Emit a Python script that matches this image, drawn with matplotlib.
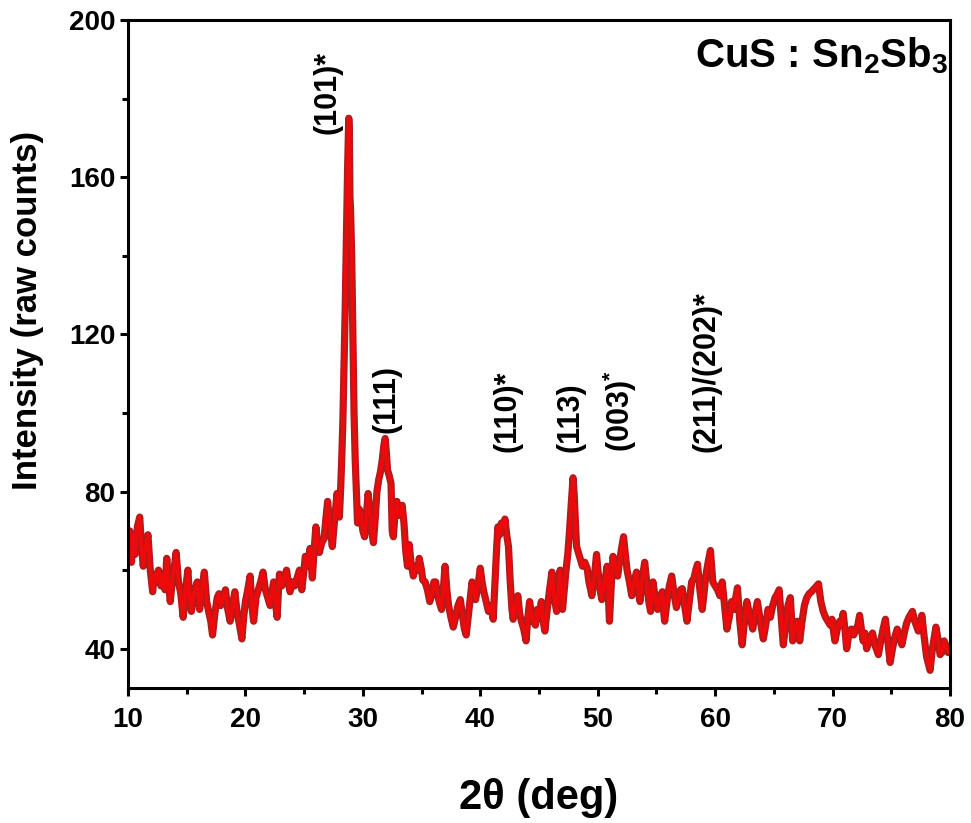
import matplotlib
matplotlib.use("Agg")
import matplotlib.pyplot as plt
from matplotlib.ticker import MultipleLocator

# XRD pattern of CuS : Sn2Sb3 film
two_theta = [
    10.0, 10.15, 10.3, 10.45, 10.6, 10.8, 11.0, 11.15, 11.3, 11.5, 11.7, 11.9,
    12.1, 12.25, 12.4, 12.6, 12.8, 13.0, 13.15, 13.3, 13.45, 13.6, 13.8, 14.0,
    14.1, 14.3, 14.5, 14.7, 14.9, 15.1, 15.25, 15.4, 15.6, 15.9, 16.1, 16.3,
    16.5, 16.7, 16.9, 17.05, 17.2, 17.4, 17.6, 17.75, 17.9, 18.1, 18.3, 18.5,
    18.7, 18.9, 19.1, 19.3, 19.5, 19.7, 19.85, 20.0, 20.2, 20.4, 20.55, 20.7,
    20.9, 21.1, 21.3, 21.5, 21.7, 21.9, 22.1, 22.25, 22.4, 22.55, 22.7, 22.8,
    22.9, 23.1, 23.3, 23.5, 23.65, 23.8, 24.0, 24.2, 24.4, 24.6, 24.8, 24.95,
    25.1, 25.3, 25.5, 25.7, 25.85, 26.0, 26.15, 26.3, 26.5, 26.7, 26.85, 27.0,
    27.2, 27.4, 27.6, 27.8, 27.9, 28.0, 28.1, 28.2, 28.3, 28.4, 28.5, 28.6,
    28.7, 28.8, 28.85, 28.9, 28.95, 29.05, 29.15, 29.25, 29.35, 29.45, 29.55, 29.7,
    29.85, 30.0, 30.15, 30.3, 30.45, 30.6, 30.75, 30.9, 31.05, 31.2, 31.35, 31.5,
    31.65, 31.8, 31.9, 32.0, 32.1, 32.25, 32.4, 32.5, 32.6, 32.75, 32.9, 33.05,
    33.2, 33.35, 33.5, 33.65, 33.8, 33.95, 34.1, 34.3, 34.5, 34.7, 34.8, 35.0,
    35.1, 35.3, 35.5, 35.7, 35.9, 36.05, 36.2, 36.35, 36.5, 36.7, 36.85, 37.0,
    37.15, 37.3, 37.5, 37.7, 37.9, 38.1, 38.3, 38.5, 38.65, 38.8, 39.0, 39.15,
    39.3, 39.45, 39.6, 39.8, 40.0, 40.15, 40.3, 40.5, 40.7, 40.9, 41.1, 41.25,
    41.4, 41.5, 41.65, 41.8, 42.0, 42.1, 42.25, 42.4, 42.55, 42.7, 42.8, 43.0,
    43.2, 43.35, 43.5, 43.7, 43.9, 44.05, 44.2, 44.35, 44.5, 44.7, 44.85, 45.0,
    45.2, 45.35, 45.5, 45.7, 45.9, 46.1, 46.3, 46.5, 46.65, 46.8, 46.9, 47.0,
    47.15, 47.3, 47.45, 47.6, 47.75, 47.9, 48.0, 48.1, 48.2, 48.35, 48.5, 48.7,
    48.9, 49.1, 49.25, 49.4, 49.5, 49.7, 49.9, 50.05, 50.2, 50.35, 50.5, 50.65,
    50.8, 50.9, 51.0, 51.15, 51.3, 51.5, 51.7, 51.85, 52.0, 52.2, 52.35, 52.5,
    52.7, 52.9, 53.1, 53.3, 53.45, 53.6, 53.8, 54.0, 54.2, 54.35, 54.5, 54.7,
    54.9, 55.1, 55.3, 55.5, 55.6, 55.7, 55.9, 56.1, 56.3, 56.5, 56.7, 56.9,
    57.05, 57.2, 57.4, 57.6, 57.8, 58.0, 58.2, 58.35, 58.5, 58.7, 58.9, 59.05,
    59.2, 59.4, 59.6, 59.8, 60.0, 60.2, 60.4, 60.6, 60.8, 61.0, 61.2, 61.4,
    61.6, 61.75, 61.9, 62.1, 62.3, 62.5, 62.7, 62.9, 63.05, 63.2, 63.4, 63.6,
    63.85, 64.1, 64.3, 64.5, 64.7, 64.9, 65.1, 65.3, 65.45, 65.6, 65.8, 66.0,
    66.2, 66.4, 66.5, 66.6, 66.8, 67.0, 67.2, 67.4, 67.6, 67.8, 68.0, 68.2,
    68.5, 68.8, 69.0, 69.2, 69.4, 69.6, 69.8, 69.95, 70.1, 70.2, 70.4, 70.6,
    70.75, 70.9, 71.05, 71.2, 71.4, 71.6, 71.8, 72.0, 72.15, 72.3, 72.45, 72.6,
    72.75, 72.9, 73.1, 73.25, 73.4, 73.6, 73.9, 74.1, 74.3, 74.5, 74.7, 74.9,
    75.1, 75.3, 75.5, 75.7, 75.9, 76.1, 76.3, 76.5, 76.8, 77.0, 77.3, 77.45,
    77.6, 77.8, 78.0, 78.3, 78.5, 78.8, 79.0, 79.15, 79.3, 79.5, 79.7, 79.85,
    80.0,
]
counts = [
    66, 70, 62, 69, 64, 71, 73.5, 66, 61, 66, 69, 60,
    54.5, 59, 57, 60, 56, 59, 55, 63, 57, 52, 58, 62,
    64.5, 57, 54, 48, 55, 60, 53, 49.5, 54, 57, 50, 55,
    59.5, 52, 49, 47, 43.5, 49, 53, 54, 51, 53, 55, 50,
    47, 51, 54.5, 49, 46, 42.5, 48, 52, 55, 58.5, 51, 47,
    53, 55, 57, 59.5, 55, 53, 51, 54, 57, 52, 48, 54,
    59, 56, 58, 60, 57, 54.5, 57, 56, 58, 60, 55, 59,
    63.5, 61, 65.5, 58, 65, 71, 67, 64.5, 67, 68, 73, 77.5,
    71, 66, 73, 79.5, 76, 73.5, 80, 88, 98, 112, 127, 145,
    162, 175, 172, 155, 152, 140, 120, 100, 88, 80, 72, 75.5,
    74, 70, 68.5, 74, 79.5, 75, 70, 67, 73, 80, 83, 85,
    88, 92, 93.5, 90, 85.5, 84, 82, 70, 68.5, 75, 77.5, 74,
    74, 76.5, 72, 65, 61, 66.5, 62, 58.5, 61, 60, 63, 60,
    57.5, 57, 55, 52, 54, 57, 57, 54, 52, 50, 55, 61,
    55, 51, 48, 45.5, 48, 51, 52.5, 48, 45, 43.5, 49, 53,
    57, 55, 52.5, 56, 60.5, 57, 54.5, 52, 49.5, 51, 47.5, 57,
    66, 71, 69, 72, 71, 73, 69, 66, 57, 50, 47.5, 51,
    53.5, 49, 47, 45, 42, 48, 52, 49, 47, 46, 50, 48,
    52, 47, 44.5, 50, 55, 59.5, 53, 49.5, 55, 60, 56, 50,
    55, 60, 64, 70, 77, 83.5, 79, 72, 66, 64.5, 63, 61,
    62, 60.5, 57, 55, 53.5, 58, 64, 59, 55, 52.5, 56, 58,
    61, 54, 47, 56, 63.5, 61, 58.5, 62, 65, 68.5, 64, 60,
    57, 53.5, 57, 59.5, 55, 52, 58, 62, 56, 52, 49.5, 57,
    53, 50, 53, 54.5, 50, 47, 52, 56, 58.5, 54, 50.5, 53,
    55, 55.3, 51, 47, 52, 57, 58, 60, 61.5, 55, 50, 54,
    58.5, 62, 65, 57, 56, 55, 53.5, 57, 51, 45, 48, 52,
    50, 53, 55.5, 47, 41, 47, 52, 49, 47, 45, 49, 52,
    47, 42.5, 46, 50, 48, 51, 53, 54, 55, 49, 41, 46,
    51, 53, 48, 42, 45, 47, 42, 47, 51, 53, 54, 54.5,
    55.5, 56.5, 52, 49.5, 48, 47, 46, 47.5, 44, 42, 45, 47,
    46, 49, 45, 40, 44, 45, 43.5, 45, 46, 48.5, 45, 42,
    44, 40, 42, 43, 44, 41, 38.5, 42, 45, 47.5, 42, 36.5,
    40, 43, 45, 43, 41, 44, 46.5, 48, 49.5, 47, 44.5, 46,
    48.5, 43, 38, 34.5, 40, 45.5, 42, 38.5, 39, 42, 40.5, 39,
    40,
]

# reflection labels: (text, 2theta position, bottom of label)
peak_labels = ["(101)*", "(111)", "(110)*", "(113)", "(003)$^{*}$", "(211)/(202)*"]
peak_pos = [26.95, 32.05, 42.35, 47.65, 51.9, 59.3]
label_base = [171, 95, 90, 90, 90, 90]

plt.rcParams["font.family"] = "Liberation Sans"
plt.rcParams["font.weight"] = "bold"
plt.rcParams["mathtext.fontset"] = "custom"
plt.rcParams["mathtext.rm"] = "Liberation Sans:bold"
plt.rcParams["mathtext.it"] = "Liberation Sans:bold"
plt.rcParams["mathtext.bf"] = "Liberation Sans:bold"

fig = plt.figure(figsize=(9.71, 8.23), dpi=100)
ax = fig.add_axes([0.1318, 0.164, 0.8466, 0.8117])

ax.plot(two_theta, counts, color="#b01c1c", lw=5.2, solid_joinstyle="round")
ax.plot(two_theta, counts, color="#ee0a0a", lw=2.6, solid_joinstyle="round")

for lab, x, y in zip(peak_labels, peak_pos, label_base):
    ax.text(x, y, lab, rotation=90, ha="center", va="bottom",
            fontsize=22, fontweight="bold")

ax.text(0.998, 0.977, "CuS : Sn$_2$Sb$_3$", transform=ax.transAxes,
        ha="right", va="top", fontsize=29, fontweight="bold")

ax.set_xlim(10, 80)
ax.set_ylim(30, 200)
ax.xaxis.set_major_locator(MultipleLocator(10))
ax.xaxis.set_minor_locator(MultipleLocator(5))
ax.yaxis.set_minor_locator(MultipleLocator(20))
ax.set_yticks([40, 80, 120, 160, 200])

for s in ax.spines.values():
    s.set_linewidth(2.2)
ax.tick_params(which="major", direction="out", length=6, width=2.2,
               labelsize=20, pad=3)
ax.tick_params(which="minor", direction="out", length=4, width=2.2)
ax.tick_params(axis="x", pad=8)

ax.set_xlabel("2\u03b8 (deg)", fontsize=30, fontweight="bold", labelpad=32)
ax.set_ylabel("Intensity (raw counts)", fontsize=25, fontweight="bold")
ax.yaxis.set_label_coords(-0.102, 0.565)

fig.savefig("out.png", dpi=100)
